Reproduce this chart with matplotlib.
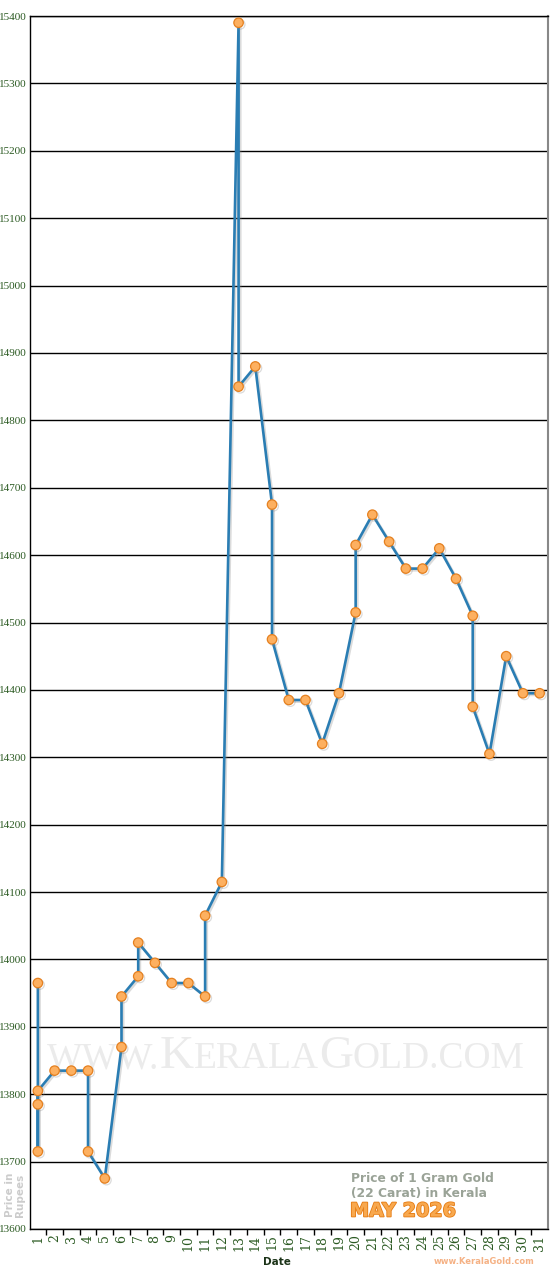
import numpy as np
import matplotlib
matplotlib.use('Agg')
import matplotlib.pyplot as plt
import matplotlib.patheffects as pe
from matplotlib.ticker import FixedLocator, MultipleLocator
from matplotlib.offsetbox import TextArea, HPacker, AnchoredOffsetbox

# price updates for May 2026, several per day on some days
days = [1, 1, 1, 1, 2, 3, 4, 4, 5, 6, 6, 7, 7, 8, 9, 10, 11, 11, 12, 13, 13,
        14, 15, 15, 16, 17, 18, 19, 20, 20, 21, 22, 23, 24, 25, 26, 27, 27,
        28, 29, 30, 31]
prices = [13965, 13715, 13785, 13805, 13835, 13835, 13835, 13715, 13675,
          13870, 13945, 13975, 14025, 13995, 13965, 13965, 13945, 14065,
          14115, 15390, 14850, 14880, 14675, 14475, 14385, 14385, 14320,
          14395, 14515, 14615, 14660, 14620, 14580, 14580, 14610, 14565,
          14510, 14375, 14305, 14450, 14395, 14395]
day_labels = [str(d) for d in range(1, 32)]

green = '#2b5a22'

fig = plt.figure(figsize=(5.5, 12.7), dpi=100)
ax = fig.add_axes([29.5/550, 41/1270, 518.5/550, 1213/1270])

def shade():
    return [pe.SimpleLineShadow(offset=(1.2, -1.2), shadow_color='#888888', alpha=0.3),
            pe.Normal()]

ax.plot(days, prices, color='#2a7db3', lw=1.9, zorder=3, path_effects=shade())
ax.plot(days, prices, ls='none', marker='o', ms=6.8, mfc='#fdb060', mec='#e5801f',
        mew=0.9, zorder=4, path_effects=shade())

ax.set_xlim(0.5, 31.5)
ax.set_ylim(13600, 15400)

ax.yaxis.set_major_locator(MultipleLocator(100))
ax.yaxis.grid(True, color='black', lw=1)
ax.set_axisbelow(True)
ax.tick_params(axis='y', length=0, pad=2, labelsize=8, labelcolor=green)
for t in ax.get_yticklabels():
    t.set_family('Liberation Serif')

ax.xaxis.set_major_locator(FixedLocator(range(1, 32)))
ax.set_xticklabels(day_labels, rotation=90, family='DejaVu Serif', fontsize=9,
                   color=green)
ax.xaxis.set_minor_locator(FixedLocator(np.arange(1.5, 31.5, 1)))
ax.tick_params(axis='x', which='major', length=0, pad=4)
ax.tick_params(axis='x', which='minor', length=4, width=1, color='black')

for s in ['left', 'bottom', 'top']:
    ax.spines[s].set_color('black')
    ax.spines[s].set_linewidth(1)
ax.spines['right'].set_color('#888888')
ax.spines['right'].set_linewidth(1.5)

# watermark in small caps
big = dict(color='#ebebeb', family='Liberation Serif', fontsize=34)
small = dict(color='#ebebeb', family='Liberation Serif', fontsize=27)
parts = [TextArea('WWW.', textprops=small), TextArea('K', textprops=big),
         TextArea('ERALA', textprops=small), TextArea('G', textprops=big),
         TextArea('OLD.COM', textprops=small)]
box = HPacker(children=parts, align='baseline', pad=0, sep=0)
wm = AnchoredOffsetbox(loc='center', child=box, frameon=False,
                       bbox_to_anchor=(286/550, 1 - 1057/1270),
                       bbox_transform=fig.transFigure, pad=0, borderpad=0)
wm.set_zorder(1)
ax.add_artist(wm)

fig.text(277/550, 1 - 1262/1270, 'Date', ha='center', va='center',
         fontsize=7.5, fontweight='bold', color='#1c3318')
fig.text(15/550, 1 - 1195/1270, 'Price in\nRupees', ha='center', va='center',
         rotation=90, fontsize=7.5, fontweight='bold', color='#cccccc',
         linespacing=1.0)

fig.text(351/550, 1 - 1186/1270, 'Price of 1 Gram Gold\n(22 Carat) in Kerala',
         ha='left', va='center', fontsize=8.8, fontweight='bold', color='#9aa397',
         linespacing=1.1)
fig.text(350/550, 1 - 1211/1270, 'MAY 2026', ha='left', va='center',
         fontsize=13.8, fontweight='bold', color='#f8a84e',
         path_effects=[pe.withStroke(linewidth=1.2, foreground='#e57b12')])
fig.text(534/550, 1 - 1261/1270, 'www.KeralaGold.com', ha='right', va='center',
         fontsize=6, fontweight='bold', color='#f5b184')

fig.savefig('out.png', dpi=100)
